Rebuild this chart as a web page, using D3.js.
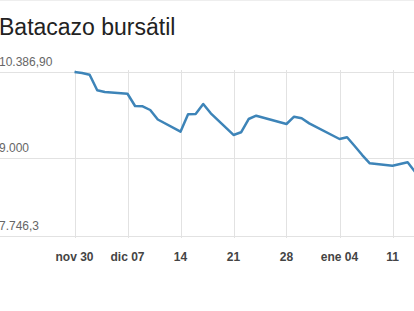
<!DOCTYPE html>
<html><head><meta charset="utf-8">
<script src="https://cdn.jsdelivr.net/npm/d3@7"></script>
<style>
html,body{margin:0;padding:0;background:#fff;overflow:hidden;}
svg{display:block;font-family:"Liberation Sans",Arial,sans-serif;}
</style></head>
<body>
<script>
const title = "Batacazo bursátil";
const dates = ["2015-11-30","2015-12-01","2015-12-02","2015-12-03","2015-12-04",
 "2015-12-07","2015-12-08","2015-12-09","2015-12-10","2015-12-11",
 "2015-12-14","2015-12-15","2015-12-16","2015-12-17","2015-12-18",
 "2015-12-21","2015-12-22","2015-12-23","2015-12-24",
 "2015-12-28","2015-12-29","2015-12-30","2015-12-31",
 "2016-01-04","2016-01-05","2016-01-06","2016-01-07","2016-01-08",
 "2016-01-11","2016-01-12","2016-01-13","2016-01-14"];
const values = [10386.9,10371,10343,10092,10065,
 10037,9839,9835,9775,9622,
 9426,9706,9712,9872,9722,
 9373,9416,9630,9683,
 9550,9667,9641,9560,
 9308,9336,9195,9050,8917,
 8878,8906,8933,8777];
const yTickValues = [7746.3, 9000, 10386.9];
const yTickLabels = ["7.746,3", "9.000", "10.386,90"];
const monthNames = ["ene","feb","mar","abr","may","jun","jul","ago","sep","oct","nov","dic"];

const W = 414, H = 311;
const svg = d3.select("body").append("svg").attr("width", W).attr("height", H);

const parse = d3.utcParse("%Y-%m-%d");
const data = dates.map((d,i)=>({date: parse(d), value: values[i]}));

const x = d3.scaleUtc()
  .domain([parse("2015-11-30"), parse("2016-01-11")])
  .range([74.5, 392.5]);
const y = d3.scaleLinear()
  .domain([yTickValues[0], yTickValues[2]])
  .range([236, 72]);

// top faint border
svg.append("line").attr("x1",0).attr("x2",W).attr("y1",0.5).attr("y2",0.5)
  .attr("stroke","#eeeeee");

// title
svg.append("text").attr("x",-1).attr("y",35)
  .attr("font-size",23).attr("fill","#222").text(title);

// vertical grid + x labels
const mondays = d3.utcMonday.range(parse("2015-11-30"), parse("2016-01-15"));
svg.append("g").selectAll("line").data(mondays).join("line")
  .attr("x1",d=>Math.round(x(d))+0.5).attr("x2",d=>Math.round(x(d))+0.5)
  .attr("y1",70).attr("y2",238)
  .attr("stroke","#e2e2e2").attr("stroke-width",1);

svg.append("g").selectAll("text").data(mondays).join("text")
  .attr("x",d=>x(d)).attr("y",261)
  .attr("text-anchor","middle").attr("font-size",12).attr("font-weight","bold")
  .attr("fill","#444")
  .text((d,i)=>{
    const dd = String(d.getUTCDate()).padStart(2,"0");
    if (i===0 || d.getUTCMonth()!==mondays[i-1].getUTCMonth())
      return monthNames[d.getUTCMonth()] + " " + dd;
    return dd;
  });

// horizontal grid + y labels
svg.append("g").selectAll("line").data(yTickValues).join("line")
  .attr("x1",0).attr("x2",W)
  .attr("y1",d=>Math.round(y(d))+0.5).attr("y2",d=>Math.round(y(d))+0.5)
  .attr("stroke","#e2e2e2").attr("stroke-width",1);

svg.append("g").selectAll("text").data(yTickValues).join("text")
  .attr("x",-1).attr("y",d=>y(d)-6)
  .attr("font-size",12).attr("fill","#666")
  .text((d,i)=>yTickLabels[i]);

// line
const line = d3.line().x(d=>x(d.date)).y(d=>y(d.value));
svg.append("path").datum(data)
  .attr("fill","none").attr("stroke","#3d84b8").attr("stroke-width",2.5)
  .attr("stroke-linejoin","round").attr("d",line);
</script>
</body></html>
